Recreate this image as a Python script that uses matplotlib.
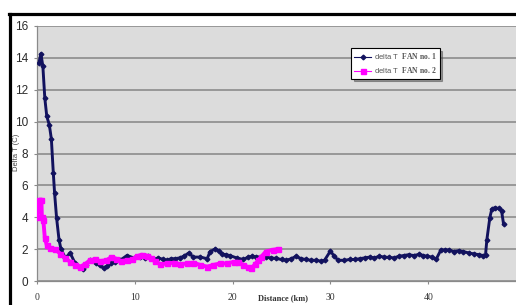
import numpy as np
import matplotlib
matplotlib.use("Agg")
import matplotlib.pyplot as plt
from matplotlib.lines import Line2D

# =========================================================
# DATOS
# =========================================================
dist_fan1 = [0.2, 0.4, 0.6, 0.8, 1.0, 1.26, 1.47, 1.67, 1.8, 2.0, 2.25, 2.45, 2.9, 3.4, 3.9,
             4.3, 4.7, 5.0, 5.4, 6.0, 6.4, 6.8, 7.2, 7.6, 8.0, 8.5, 9.2, 9.9, 10.5, 11.0,
             11.4, 11.9, 12.4, 12.9, 13.3, 13.7, 14.1, 14.6, 15.0, 15.5, 16.0, 16.7, 17.4,
             17.7, 18.2, 18.6, 18.9, 19.3, 19.7, 20.4, 21.1, 21.6, 22.0, 22.4, 22.9, 23.4,
             23.9, 24.4, 25.0, 25.5, 26.0, 26.5, 27.0, 27.5, 28.0, 28.5, 29.0, 29.4, 30.0,
             30.4, 30.8, 31.4, 32.0, 32.5, 33.0, 33.5, 34.0, 34.5, 35.0, 35.5, 36.0, 36.5,
             37.0, 37.5, 38.0, 38.5, 39.1, 39.5, 39.9, 40.4, 40.8, 41.3, 41.7, 42.1, 42.6,
             43.1, 43.6, 44.2, 44.7, 45.2, 45.6, 45.86, 46.0, 46.3, 46.5, 46.8, 47.2, 47.5,
             47.7]
dT_fan1 = [13.7, 14.26, 13.47, 11.46, 10.33, 9.8, 8.9, 6.75, 5.5, 3.97, 2.6, 2.0, 1.45, 1.75, 1.1,
           0.9, 0.75, 1.0, 1.3, 1.1, 1.0, 0.8, 0.95, 1.1, 1.2, 1.3, 1.6, 1.45, 1.5, 1.45,
           1.55, 1.35, 1.45, 1.35, 1.3, 1.4, 1.4, 1.45, 1.55, 1.75, 1.5, 1.5, 1.4,
           1.85, 2.0, 1.9, 1.7, 1.65, 1.6, 1.45, 1.35, 1.5, 1.55, 1.52, 1.5, 1.5,
           1.45, 1.42, 1.35, 1.3, 1.4, 1.55, 1.4, 1.35, 1.3, 1.3, 1.25, 1.3, 1.88,
           1.55, 1.3, 1.3, 1.35, 1.35, 1.4, 1.45, 1.5, 1.45, 1.55, 1.5, 1.48, 1.45,
           1.55, 1.6, 1.65, 1.6, 1.67, 1.6, 1.55, 1.5, 1.35, 1.95, 1.95, 1.95, 1.85,
           1.9, 1.85, 1.75, 1.7, 1.65, 1.6, 1.63, 2.6, 3.97, 4.5, 4.6, 4.55, 4.4,
           3.6]

dist_fan2 = [0.05, 0.25, 0.45, 0.5, 0.65, 0.8, 1.0, 1.3, 1.85, 2.4, 2.9, 3.4, 3.9, 4.4, 4.9,
             5.4, 5.9, 6.4, 7.1, 7.6, 8.1, 8.6, 9.2, 9.7, 10.2, 10.7, 11.2, 11.7, 12.1,
             12.6, 13.3, 14.0, 14.6, 15.3, 16.0, 16.7, 17.4, 18.0, 18.7, 19.4, 20.1, 20.6,
             21.1, 21.6, 21.9, 22.3, 22.6, 22.9, 23.4, 24.1, 24.6]
dT_fan2 = [4.0, 5.1, 5.1, 4.0, 3.8, 2.7, 2.25, 2.1, 2.0, 1.7, 1.45, 1.2, 1.0, 0.9, 1.05,
           1.3, 1.35, 1.25, 1.3, 1.5, 1.4, 1.25, 1.3, 1.35, 1.55, 1.65, 1.6, 1.45, 1.25,
           1.05, 1.1, 1.15, 1.05, 1.1, 1.15, 1.0, 0.9, 1.0, 1.1, 1.1, 1.2, 1.2,
           1.0, 0.86, 0.8, 1.05, 1.3, 1.5, 1.85, 1.95, 2.0]

etiqueta_fan1 = r"delta T  $\mathbf{FAN\ no.1}$"
etiqueta_fan2 = r"delta T  $\mathbf{FAN\ no.2}$"

xticks = [0, 10, 20, 30, 40]
yticks = [0, 2, 4, 6, 8, 10, 12, 14, 16]

# =========================================================
# ESTILO
# =========================================================
plt.rcParams["font.family"] = ["Liberation Sans", "DejaVu Sans"]
plt.rcParams["mathtext.fontset"] = "custom"
plt.rcParams["mathtext.bf"] = "Liberation Serif:bold"
plt.rcParams["mathtext.rm"] = "Liberation Serif"

W, H = 516, 305
fig = plt.figure(figsize=(W / 100, H / 100), dpi=100)
fig.patch.set_facecolor("white")

# ejes en pixeles: x=0 en 37, y=0 en 281, y=16 en 26, 9.78 px/km
ax = fig.add_axes([37 / W, (H - 281) / H, 489 / W, 255 / H])
ax.set_facecolor("#dcdcdc")

# =========================================================
# GRAFICAR
# =========================================================
ax.plot(dist_fan1, dT_fan1, color="#12125e", lw=2.1, marker="D", ms=2.4,
        label=etiqueta_fan1, zorder=3)
ax.plot(dist_fan2, dT_fan2, color="#ff00ff", lw=2.8, marker="s", ms=3.6,
        label=etiqueta_fan2, zorder=4)

ax.set_xlim(0, 50)
ax.set_ylim(0, 16)
ax.set_xticks(xticks)
ax.set_yticks(yticks)
ax.grid(True, axis="y", color="#858585", lw=1.1)
ax.set_axisbelow(True)

for s in ["top", "right"]:
    ax.spines[s].set_visible(False)
for s in ["left", "bottom"]:
    ax.spines[s].set_color("#8a8a8a")
    ax.spines[s].set_linewidth(0.9)

ax.tick_params(axis="y", length=2.5, width=0.8, color="#8a8a8a", pad=4,
               labelsize=8.5, labelcolor="#2a2a2a")
ax.tick_params(axis="x", length=2.5, width=0.8, color="#8a8a8a", pad=6,
               labelsize=7, labelcolor="#333333")
for lab in ax.get_xticklabels():
    lab.set_fontfamily("Liberation Serif")

fig.text(16 / W, (H - 152) / H, "Delta T (C)", rotation=90, fontsize=5.5,
         color="#444444", ha="center", va="center")
fig.text(283 / W, (H - 298) / H, "Distance (km)", fontsize=6, fontweight="bold",
         family="Liberation Serif", color="#333333", ha="center", va="center")

leg = ax.legend(loc="upper left", bbox_to_anchor=((351 - 37) / 489, (281 - 48) / 255),
                fontsize=5.5, frameon=True, fancybox=False, shadow=True,
                handlelength=2.2, handletextpad=0.3, borderpad=0.45,
                labelspacing=0.5, borderaxespad=0)
leg.get_frame().set_edgecolor("black")
leg.get_frame().set_linewidth(0.8)
for t in leg.get_texts():
    t.set_color("#555555")
for ln in leg.get_lines():
    ln.set_linewidth(0.8)

# marco negro exterior
fig.add_artist(Line2D([9.5 / W, 9.5 / W], [0, (H - 13.5) / H], color="black", lw=2.3))
fig.add_artist(Line2D([8.5 / W, 1], [(H - 13.5) / H, (H - 13.5) / H], color="black", lw=2.3))

plt.savefig("out.png", dpi=100)
